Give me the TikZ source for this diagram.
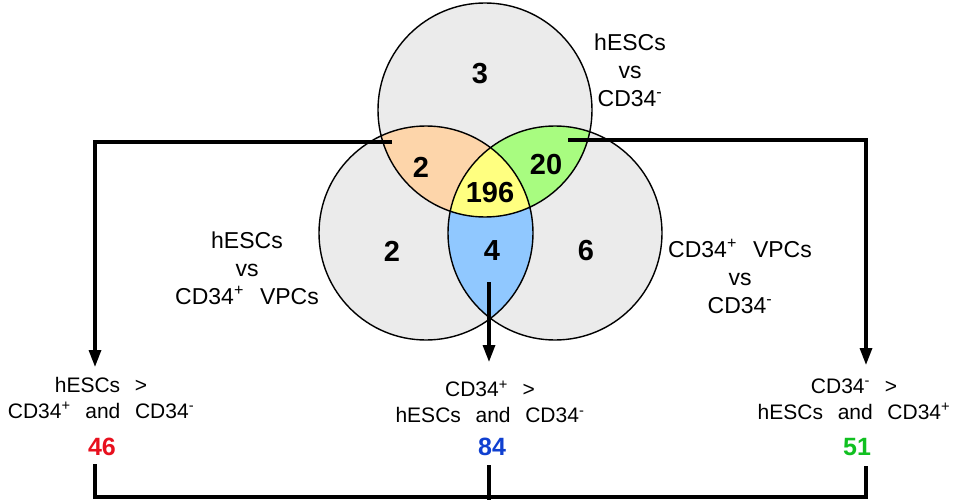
\documentclass[tikz,border=0pt]{standalone}
\usepackage{fontspec}
\setmainfont{Liberation Sans}
\usepackage{tikz}
\usetikzlibrary{arrows.meta}

\definecolor{vennGray}{HTML}{EBEBEB}
\definecolor{vennOrange}{HTML}{FDD5AA}
\definecolor{vennGreen}{HTML}{A8FC80}
\definecolor{vennYellow}{HTML}{FFFF80}
\definecolor{vennBlue}{HTML}{90C8FF}
\definecolor{numRed}{HTML}{E8101E}
\definecolor{numBlue}{HTML}{1040D0}
\definecolor{numGreen}{HTML}{10C020}
\newcommand{\wsp}{\hspace{0.7em}}

\begin{document}
\begin{tikzpicture}[x=1pt, y=-1pt]
	\useasboundingbox (0,0) rectangle (964,500);
	\coordinate (T) at (485,110);
	\coordinate (L) at (426,233);
	\coordinate (R) at (555,233);
	% circle fills
	\fill [vennGray] (T) circle [radius=107pt] (L) circle [radius=107pt] (R) circle [radius=107pt];
	\begin{scope}
		\clip (T) circle [radius=107pt];
		\fill [vennOrange] (L) circle [radius=107pt];
		\fill [vennGreen] (R) circle [radius=107pt];
	\end{scope}
	\begin{scope}
		\clip (L) circle [radius=107pt];
		\fill [vennBlue] (R) circle [radius=107pt];
		\clip (R) circle [radius=107pt];
		\fill [vennYellow] (T) circle [radius=107pt];
	\end{scope}
	\draw [line width=1.4pt] (T) circle [radius=107pt] (L) circle [radius=107pt] (R) circle [radius=107pt];
	\begin{scope}[every node/.style = {font = \bfseries\fontsize{29}{29}\selectfont}]
		\node (n3) at (480,74) {3};
		\node (n2a) at (421,167) {2};
		\node (n20) at (546,165) {20};
		\node (n196) at (490,193) {196};
		\node (n2b) at (392,251) {2};
		\node (n4) at (492,251) {4};
		\node (n6) at (586,251) {6};
	\end{scope}
	\begin{scope}[every node/.style = {align = center, font = \fontsize{23}{28}\selectfont}]
		\node (cmpTop) at (630,70) {hESCs\\vs\\CD34\textsuperscript{-}};
		\node (cmpLeft) at (247,268) {hESCs\\vs\\CD34\textsuperscript{+}\wsp VPCs};
		\node (cmpRight) at (740,276) {CD34\textsuperscript{+}\wsp VPCs\\vs\\CD34\textsuperscript{-}};
	\end{scope}
	\begin{scope}[every node/.style = {align = center, font = \fontsize{21}{26}\selectfont}]
		\node (upA) at (101,398) {hESCs\wsp >\\CD34\textsuperscript{+}\wsp and\wsp CD34\textsuperscript{-}};
		\node (upB) at (490,402) {CD34\textsuperscript{+}\wsp >\\hESCs\wsp and\wsp CD34\textsuperscript{-}};
		\node (upC) at (854,399) {CD34\textsuperscript{-}\wsp >\\hESCs\wsp and\wsp CD34\textsuperscript{+}};
	\end{scope}
	\begin{scope}[every node/.style = {font = \bfseries\fontsize{25}{25}\selectfont}]
		\node [numRed] (cntA) at (102,447) {46};
		\node [numBlue] (cntB) at (492,447) {84};
		\node [numGreen] (cntC) at (857,447) {51};
	\end{scope}
	% connectors
	\coordinate (fromA) at (392,142);
	\coordinate (fromB) at (489,282);
	\coordinate (fromC) at (568,140);
	\coordinate (toA) at (95,367);
	\coordinate (toB) at (489,362);
	\coordinate (toC) at (866,365);
	\coordinate (jA) at (95,464);
	\coordinate (jB) at (489,465);
	\coordinate (jC) at (866,466);
	\coordinate (jOut) at (489,500);
	\begin{scope}[>={Triangle[length=17pt, width=12pt]}, line width=3.2pt]
		\draw [->] (fromA) -| (toA);
		\draw [->] (fromB) -- (toB);
		\draw [->] (fromC) -| (toC);
		\draw (jA) |- (489,497) -| (jC);
		\draw (jB) -- (jOut);
	\end{scope}
\end{tikzpicture}
\end{document}
